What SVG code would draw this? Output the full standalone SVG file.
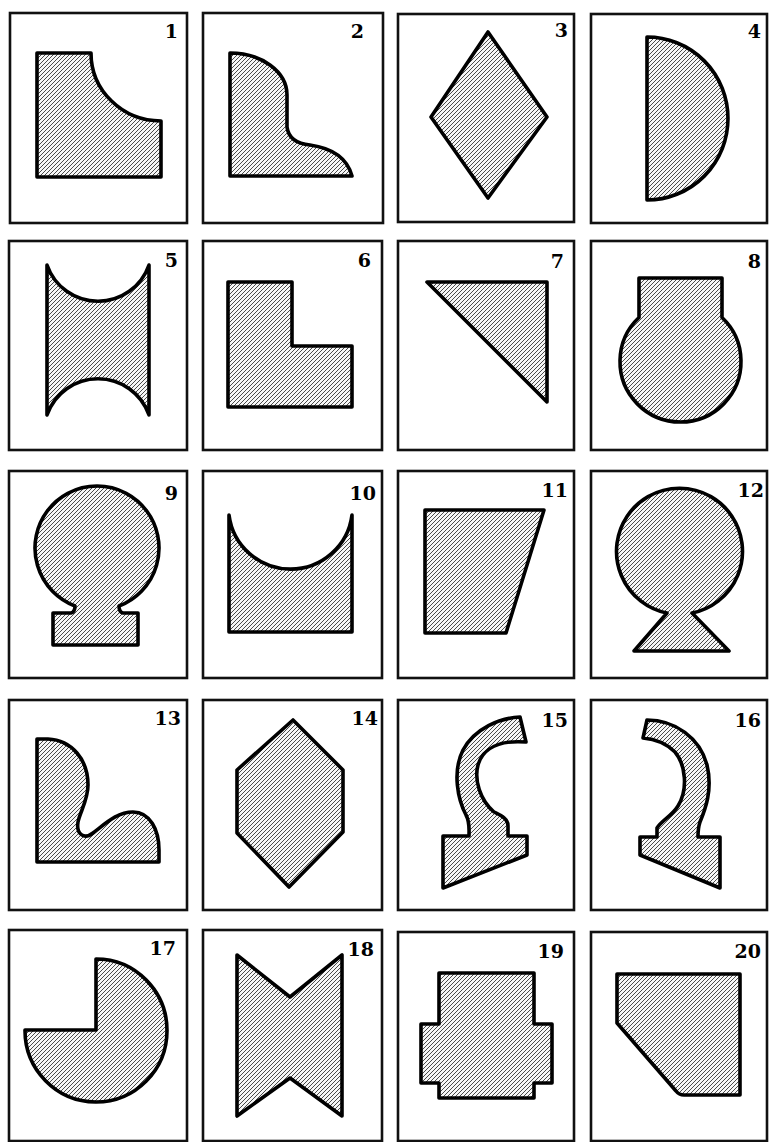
<svg xmlns="http://www.w3.org/2000/svg" width="770" height="1142" viewBox="0 0 770 1142">
<defs>
<pattern id="hatch" patternUnits="userSpaceOnUse" width="4" height="4">
<rect width="4" height="4" fill="#f6f6f6"/>
<path d="M-1,1 L1,-1 M0,4 L4,0 M3,5 L5,3" stroke="#4a4a4a" stroke-width="1"/>
</pattern>
<style>
.box{fill:#fff;stroke:#111;stroke-width:2.6}
.shape{fill:url(#hatch);stroke:#000;stroke-width:3.6;stroke-linejoin:round}
.num{font-family:"DejaVu Serif",serif;font-weight:bold;font-size:19px;fill:#000;text-anchor:end}
</style>
</defs>
<rect width="770" height="1142" fill="#fff"/>

<g id="cell1"><rect class="box" x="10" y="13" width="177" height="210"/>
<path class="shape" d="M37,53 H91 A70,68 0 0 0 161,121 V177 H37 Z"/>
<text class="num" x="178" y="38">1</text></g>

<g id="cell2"><rect class="box" x="203" y="13" width="180" height="210"/>
<path class="shape" d="M230,53 A57,42 0 0 1 287,95 V127 Q289,143 310,145 Q345,150 352,176 H230 Z"/>
<text class="num" x="364" y="38">2</text></g>

<g id="cell3"><rect class="box" x="398" y="14" width="176" height="208"/>
<path class="shape" d="M488,32 L547,117 L488,198 L431,117 Z"/>
<text class="num" x="568" y="37">3</text></g>

<g id="cell4"><rect class="box" x="591" y="14" width="176" height="209"/>
<path class="shape" d="M647,37 A81,81.5 0 0 1 647,200 Z"/>
<text class="num" x="761" y="38">4</text></g>

<g id="cell5"><rect class="box" x="9" y="241" width="178" height="209"/>
<path class="shape" d="M47,265 A54,54 0 0 0 149,265 V415 A54,54 0 0 0 47,415 Z"/>
<text class="num" x="178" y="267">5</text></g>

<g id="cell6"><rect class="box" x="203" y="241" width="179" height="209"/>
<path class="shape" d="M228,282 H292 V346 H352 V407 H228 Z"/>
<text class="num" x="371" y="267">6</text></g>

<g id="cell7"><rect class="box" x="398" y="241" width="176" height="209"/>
<path class="shape" d="M427,282 H547 V402 Z"/>
<text class="num" x="564" y="268">7</text></g>

<g id="cell8"><rect class="box" x="591" y="241" width="176" height="209"/>
<path class="shape" d="M639,278 H722 V317.5 A60.5,60.5 0 1 1 639,317.5 Z"/>
<text class="num" x="761" y="268">8</text></g>

<g id="cell9"><rect class="box" x="9" y="471" width="178" height="207"/>
<path class="shape" d="M53,613 H71 Q75,612 75,606 A62,62 0 1 1 119,606 Q119,612 123,613 H138 V645 H53 Z"/>
<text class="num" x="178" y="500">9</text></g>

<g id="cell10"><rect class="box" x="203" y="471" width="179" height="207"/>
<path class="shape" d="M229,515 A62,62 0 0 0 352,515 V632 H229 Z"/>
<text class="num" x="376" y="500">10</text></g>

<g id="cell11"><rect class="box" x="398" y="471" width="176" height="207"/>
<path class="shape" d="M425,510 H544 L506,633 H425 Z"/>
<text class="num" x="568" y="497">11</text></g>

<g id="cell12"><rect class="box" x="591" y="471" width="176" height="207"/>
<path class="shape" d="M667,613 A63,63 0 1 1 692,613 L729,651 H634 Z"/>
<text class="num" x="764" y="497">12</text></g>

<g id="cell13"><rect class="box" x="9" y="700" width="178" height="210"/>
<path class="shape" d="M37,739 H48 C72,740 88,760 88,785 C88,800 80,812 78,822 C76,834 84,840 93,833 C105,824 117,812 133,812 C150,812 159,830 159,850 V862 H37 Z"/>
<text class="num" x="181" y="725">13</text></g>

<g id="cell14"><rect class="box" x="203" y="700" width="179" height="210"/>
<path class="shape" d="M293,720 L343,770 V832 L289,887 L237,833 V770 Z"/>
<text class="num" x="378" y="725">14</text></g>

<g id="cell15"><rect class="box" x="398" y="700" width="176" height="210"/>
<path class="shape" d="M520,717 C500,718 475,728 463,750 C452,772 458,800 466,815 C470,822 469,830 469,836 H443 V888 L527,855 V836 H508 V826 C508,818 500,815 494,812 C480,800 474,780 478,765 C483,748 500,740 526,742 Z"/>
<text class="num" x="568" y="727">15</text></g>

<g id="cell16"><rect class="box" x="591" y="700" width="176" height="210"/>
<path class="shape" d="M647,720 C675,720 700,738 707,765 C713,790 705,810 700,822 C698,828 698,832 698,837 H720 V888 L640,855 V837 H657 V828 C662,820 672,816 678,806 C688,790 686,765 675,752 C665,742 655,739 643,738 Z"/>
<text class="num" x="761" y="727">16</text></g>

<g id="cell17"><rect class="box" x="9" y="930" width="178" height="211"/>
<path class="shape" d="M96,1030 V959 A71,71.5 0 1 1 25,1030 Z"/>
<text class="num" x="176" y="955">17</text></g>

<g id="cell18"><rect class="box" x="203" y="930" width="179" height="211"/>
<path class="shape" d="M237,955 L290,997 L342,955 V1116 L290,1078 L237,1116 Z"/>
<text class="num" x="374" y="956">18</text></g>

<g id="cell19"><rect class="box" x="398" y="932" width="176" height="209"/>
<path class="shape" d="M439,973 H534 V1024 H552 V1083 H534 V1098 H439 V1083 H421 V1024 H439 Z"/>
<text class="num" x="564" y="958">19</text></g>

<g id="cell20"><rect class="box" x="591" y="932" width="176" height="209"/>
<path class="shape" d="M617,974 H740 V1095 H684 Q679,1095 676,1091 L617,1023 Z"/>
<text class="num" x="761" y="958">20</text></g>
</svg>
